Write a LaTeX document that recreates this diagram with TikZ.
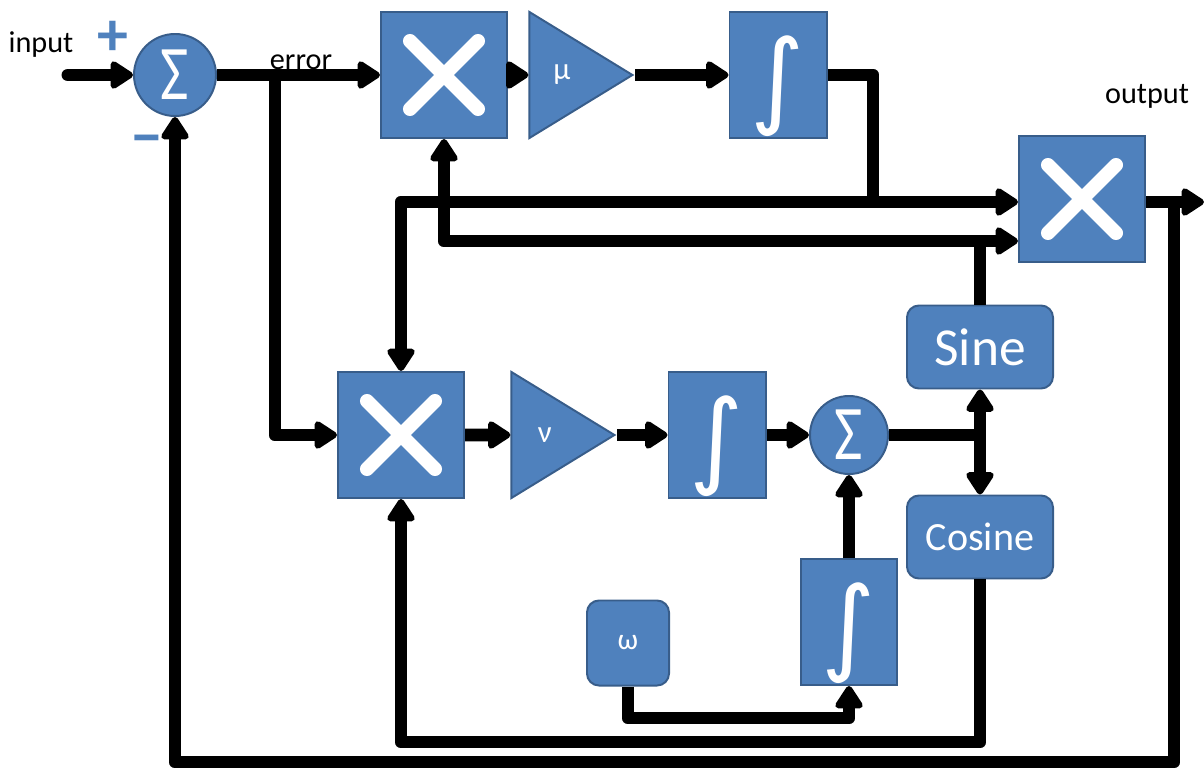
\documentclass[tikz,border=0pt]{standalone}
\usepackage{fontspec}
\setmainfont{Carlito}
\newfontfamily\intglyph{DejaVu Sans}
\usetikzlibrary{arrows.meta,shapes.geometric}
\definecolor{blkfill}{RGB}{79,129,189}
\definecolor{blkline}{RGB}{56,93,138}

\begin{document}
\begin{tikzpicture}[x=0.025cm, y=-0.025cm, >={Triangle[length=18pt,width=22pt,round]}]
\tikzset{
  blk/.style={draw=blkline, fill=blkfill, line width=1.4pt, inner sep=0pt, text=white},
  mulbox/.style={blk, rectangle, minimum size=3.15cm,
    path picture={
      \draw[white, line width=10pt, line cap=round]
        ([shift={(-34,-34)}]path picture bounding box.center) -- ([shift={(34,34)}]path picture bounding box.center)
        ([shift={(-34,34)}]path picture bounding box.center) -- ([shift={(34,-34)}]path picture bounding box.center);
    }},
  intbox/.style={blk, rectangle, minimum width=2.425cm, minimum height=3.15cm,
    font=\intglyph\fontsize{74}{74}\selectfont, text depth=0pt, text height=0pt},
  sumnode/.style={blk, circle, minimum size=2.05cm, font=\fontsize{55}{55}\selectfont},
  gain/.style={blk, isosceles triangle, isosceles triangle stretches, shape border rotate=0,
    minimum width=3.15cm, minimum height=2.575cm, font=\fontsize{22}{22}\selectfont},
  fnbox/.style={blk, rectangle, rounded corners=0.3cm, minimum width=3.65cm, minimum height=2.075cm},
  lbl/.style={font=\fontsize{21.5}{24}\selectfont, inner sep=0pt},
  wire/.style={line width=9.2pt, line join=round},
  sig/.style={wire, ->}
}
\useasboundingbox (0,0) rectangle (1204,768);

\node[sumnode] (sum1) at (175,75) {\scalebox{0.8}[1]{Σ}};
\node[mulbox] (X1) at (444,75) {};
\node[gain, anchor=apex] (mu) at (635,75) {μ};
\node[intbox] (int1) at (778,75) {\raisebox{-28pt}{∫}};
\node[mulbox] (X3) at (1082,199) {};

\node[mulbox] (X2) at (401,435) {};
\node[gain, anchor=apex] (nu) at (617,435) {ν};
\node[intbox] (int2) at (717,435) {\raisebox{-28pt}{∫}};
\node[sumnode, minimum size=1.95cm] (sum2) at (849,435) {\scalebox{0.8}[1]{Σ}};
\node[fnbox, font=\fontsize{38}{38}\selectfont] (sine) at (980,347) {Sine};
\node[fnbox, font=\fontsize{28.5}{28.5}\selectfont] (cosine) at (980,537) {Cosine};
\node[blk, rectangle, rounded corners=0.3cm, minimum width=2.05cm, minimum height=2.125cm,
  font=\fontsize{21}{21}\selectfont] (omega) at (628,643) {ω};
\node[intbox, minimum width=2.4cm] (int3) at (849,622) {\raisebox{-28pt}{∫}};

\node[lbl] (inlbl) at (41,45) {input};
\node[lbl] (errlbl) at (301,62) {error};
\node[lbl] (outlbl) at (1147,96) {output};
\node[text=blkfill, font=\bfseries\fontsize{44}{44}\selectfont, inner sep=0pt] (plus) at (113,38) {+};
\node[text=blkfill, font=\bfseries\fontsize{44}{44}\selectfont, inner sep=0pt] (minus) at (147,146) {−};

\coordinate (in) at (68,75);
\coordinate (jerr) at (275,75);
\coordinate (jA) at (873,202);
\coordinate (jB) at (980,241);
\coordinate (jC) at (1174,202);
\coordinate (fb) at (1174,762);
\coordinate (out) at (1204,202);
\coordinate (jE) at (980,435);
\coordinate (jF) at (980,742);
\coordinate (jG) at (628,718);

\draw[sig, line cap=round] (in) -- (sum1);
\draw[sig] (sum1) -- (X1);
\draw[sig] (jerr) |- (X2.west);
\draw[sig] (X1) -- (mu);
\draw[sig] (mu.apex) -- (int1);
\draw[wire] (int1.east) -| (jA);
\draw[sig] (jA) -- (jA -| X3.west);
\draw[sig] (jA) -| (X2.north);
\draw[wire] (sine.north) -- (jB);
\draw[sig] (jB) -| (X1.south);
\draw[sig] (jB) -- (jB -| X3.west);
\draw[sig] (X3.east |- out) -- (out);
\draw[sig] (jC) -- (fb) -| (sum1.south);

\draw[sig] (X2) -- (nu);
\draw[sig] (nu.apex) -- (int2);
\draw[sig] (int2) -- (sum2);
\draw[wire] (sum2.east) -- (jE);
\draw[sig] (jE) -- (sine.south);
\draw[sig] (jE) -- (cosine.north);
\draw[sig] (cosine.south) -- (jF) -| (X2.south);
\draw[sig] (omega.south) -- (jG) -| (int3.south);
\draw[sig] (int3.north) -- (sum2.south);
\end{tikzpicture}
\end{document}
